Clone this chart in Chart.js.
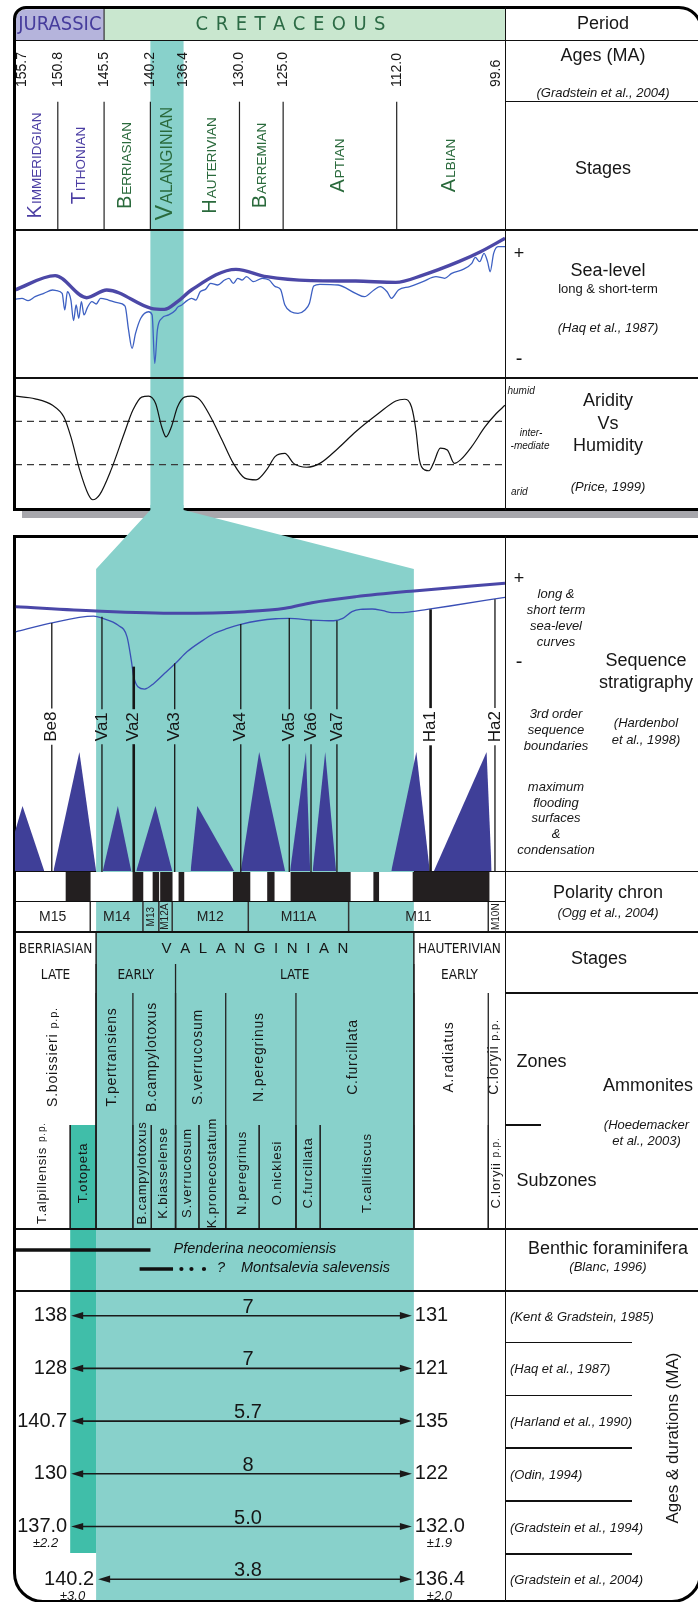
<!DOCTYPE html>
<html lang="en">
<head>
<meta charset="UTF-8">
<title>Valanginian stratigraphic framework</title>
<script src="https://cdn.jsdelivr.net/npm/chart.js"></script>
<style>
  body { margin: 0; background: #fff; }
  #page { position: relative; width: 698px; height: 1602px; overflow: hidden; background: #fff;
          font-family: 'Liberation Sans', Arial, sans-serif; color: #161616; }
  .t { position: absolute; white-space: nowrap; line-height: 1; z-index: 2; }
  .it { font-style: italic; }
  .ln { position: absolute; background: #111; z-index: 2; }
  .frame { position: absolute; border: 3px solid #000; box-sizing: border-box; z-index: 2; }
</style>
</head>
<body>
<div id="page"></div>
<script>
// ---------- upper panel : time scale (Gradstein et al., 2004) ----------
const ageTicks = [155.7, 150.8, 145.5, 140.2, 136.4, 130.0, 125.0, 112.0, 99.6];
const periodNames = ['JURASSIC', 'CRETACEOUS'];
const periodEdges = [155.7, 145.5, 99.6];
const stageNames = ['Kimmeridgian', 'Tithonian', 'Berriasian', 'Valanginian', 'Hauterivian', 'Barremian', 'Aptian', 'Albian'];
const stageEdges = [155.7, 150.8, 145.5, 140.2, 136.4, 130.0, 125.0, 112.0, 99.6];
const stageLines = [150.8, 145.5, 140.2, 130.0, 125.0, 112.0];
const valanginian = [140.2, 136.4];

// sea level (Haq et al., 1987), [age Ma, relative level 0-100]
const seaLong = [[155.7,60.3],[151.1,70.1],[147.5,55.0],[145.2,60.3],[140.1,47.7],[138.6,47.0],[137.1,52.3],
  [135.5,60.3],[130.4,74.4],[126.9,69.4],[121.8,66.7],[116.7,66.4],[112.1,65.5],[109.0,70.5],[104.9,79.7],
  [102.4,86.5],[99.6,95.7]];
const seaShort = [[155.7,53.9],[154.9,54.6],[154.2,53.0],[153.4,55.7],[152.4,58.0],[151.4,60.3],[150.9,59.8],
  [150.3,58.0],[150.0,46.6],[149.7,59.1],[149.3,53.4],[149.0,39.3],[148.7,50.0],[148.4,40.9],[148.1,52.3],
  [147.8,43.2],[147.4,48.4],[146.9,52.3],[146.4,50.7],[145.9,54.6],[145.0,53.4],[144.0,51.6],[143.1,49.3],
  [142.7,32.9],[142.3,20.3],[141.9,30.6],[141.3,40.9],[140.4,45.4],[140.0,43.2],[139.7,10.0],[139.4,32.9],
  [138.9,40.9],[138.1,43.2],[137.3,46.6],[137.1,48.4],[136.6,50.0],[136.0,53.0],[135.5,54.6],[135.0,53.4],
  [134.5,59.1],[133.9,60.7],[133.3,64.8],[132.5,63.7],[131.7,67.1],[131.2,68.3],[130.7,64.8],[130.2,68.3],
  [129.7,67.1],[129.2,69.4],[128.4,66.0],[127.4,68.3],[126.6,67.1],[125.9,62.6],[125.3,60.7],[124.8,50.0],
  [124.1,45.4],[123.3,44.3],[122.5,46.6],[122.0,51.1],[121.5,63.0],[120.8,64.2],[118.7,63.7],[116.7,58.0],
  [115.7,55.7],[114.6,60.3],[113.9,62.6],[113.1,59.1],[112.6,54.6],[111.8,60.3],[110.5,62.6],[109.0,66.0],
  [107.5,69.4],[106.5,68.3],[105.7,71.7],[104.4,74.4],[103.4,78.5],[103.0,82.6],[102.5,79.7],[102.0,85.4],
  [101.6,79.7],[101.3,72.8],[100.9,85.4],[100.4,90.0],[99.6,90.0]];

// aridity vs humidity (Price, 1999): 0 arid, 1-2 intermediate, 3 humid
const aridity = [[155.7,2.58],[153.4,2.52],[151.4,2.37],[150.1,2.10],[149.3,1.64],[148.3,0.88],[147.3,0.31],
  [146.8,0.19],[146.0,0.31],[144.7,0.88],[143.2,1.72],[142.2,2.26],[141.2,2.56],[140.4,2.58],[139.6,2.41],
  [138.9,1.87],[138.4,1.64],[137.8,1.87],[137.1,2.33],[136.3,2.56],[135.5,2.58],[134.5,2.49],[133.3,2.10],
  [132.0,1.57],[130.7,1.03],[129.4,0.69],[128.1,0.65],[126.9,0.88],[125.9,1.19],[124.8,1.26],[123.8,1.03],
  [122.3,0.94],[120.8,1.03],[118.7,1.38],[116.7,1.76],[114.1,2.18],[112.1,2.47],[111.1,2.51],[110.3,2.33],
  [109.8,1.80],[109.4,1.11],[108.8,0.88],[108.3,0.86],[107.8,1.03],[107.0,1.38],[106.2,1.34],[105.4,1.03],
  [104.7,1.11],[103.4,1.42],[101.9,1.87],[100.6,2.18],[99.6,2.37]];
const aridityLevels = [1, 2];

// ---------- lower panel : expanded Valanginian ----------
const seaLongV = [[141.16,78.9],[140.20,77.6],[139.22,76.9],[138.42,77.4],[137.94,78.4],[137.62,80.1],
  [137.09,81.9],[136.40,83.6],[135.31,85.9]];
const seaShortV = [[141.16,71.4],[140.76,73.9],[140.23,76.1],[140.12,75.4],[139.94,73.4],[139.83,69.9],
  [139.78,63.0],[139.75,58.0],[139.70,55.0],[139.62,54.3],[139.51,56.0],[139.38,59.0],[139.25,62.0],
  [139.11,65.5],[138.95,68.4],[138.79,70.9],[138.63,72.4],[138.47,73.6],[138.26,74.7],[138.05,75.3],
  [137.89,75.4],[137.62,74.9],[137.36,74.7],[137.25,75.4],[137.14,77.4],[137.04,78.1],[136.90,78.2],
  [136.77,77.7],[136.66,77.1],[136.50,77.2],[136.24,78.1],[135.97,79.1],[135.31,81.7]];
const seqNames = ['Be8', 'Va1', 'Va2', 'Va3', 'Va4', 'Va5', 'Va6', 'Va7', 'Ha1', 'Ha2'];
const seqAges = [140.73, 140.13, 139.75, 139.26, 138.47, 137.89, 137.63, 137.32, 136.20, 135.43];
const seqTop = [74.0, 75.9, 61.0, 62.0, 73.7, 75.5, 74.9, 74.7, 78.1, 81.1];
const seqMajor = ['Va2', 'Ha1'];
// maximum flooding surfaces: [base start, apex, base end, height]
const mfs = [[141.31,141.08,140.82,19.4],[140.71,140.40,140.20,35.5],[140.12,139.94,139.78,19.4],
  [139.72,139.49,139.29,19.4],[139.07,138.99,138.55,19.4],[138.47,138.25,137.94,35.5],
  [137.88,137.69,137.64,35.5],[137.61,137.46,137.33,35.5],[136.67,136.37,136.21,35.5],
  [136.16,135.53,135.47,35.5]];

// polarity (Ogg et al., 2004): normal (black) intervals and chron names
const normalChrons = [[140.56,140.27],[139.76,139.64],[139.52,139.45],[139.43,139.29],[139.21,139.15],
  [138.56,138.36],[138.15,138.07],[137.87,137.16],[136.88,136.82],[136.41,135.50]];
const chronNames = ['M15', 'M14', 'M13', 'M12A', 'M12', 'M11A', 'M11', 'M10N'];
const chronEdges = [141.17, 140.27, 139.64, 139.45, 139.29, 138.38, 137.18, 135.51, 135.31];

const stageLo = ['BERRIASIAN', 'VALANGINIAN', 'HAUTERIVIAN'];
const stageLoEdges = [141.17, 140.2, 136.4, 135.31];
const subStages = ['LATE', 'EARLY', 'LATE', 'EARLY'];
const subStageEdges = [141.17, 140.2, 139.25, 136.4, 135.31];

// ammonites (Hoedemacker et al., 2003)
const zoneNames = ['S.boissieri|p.p.', 'T.pertransiens', 'B.campylotoxus', 'S.verrucosum', 'N.peregrinus',
  'C.furcillata', 'A.radiatus', 'C.loryii|p.p.'];
const zoneEdges = [141.17, 140.2, 139.76, 139.25, 138.65, 137.81, 136.4, 135.51, 135.31];
const subzoneNames = ['T.alpillensis|p.p.', 'T.otopeta', 'B.campylotoxus', 'K.biasselense', 'S.verrucosum',
  'K.pronecostatum', 'N.peregrinus', 'O.nicklesi', 'C.furcillata', 'T.callidiscus', 'C.loryii|p.p.'];
const subzoneFrom = [141.17, 140.51, 139.76, 139.54, 139.25, 138.97, 138.65, 138.25, 137.81, 137.52, 135.51];
const subzoneTo = [140.51, 140.2, 139.54, 139.25, 138.97, 138.65, 138.25, 137.81, 137.52, 136.4, 135.31];
const otopeta = [140.51, 140.2];

// benthic foraminifera (Blanc, 1996)
const pfenderina = [141.17, 139.55];
const montsalevia = [139.68, 139.28];
const montsaleviaDots = [139.18, 139.06, 138.91];

// ages & durations of the Valanginian (MA)
const refs = ['(Kent & Gradstein, 1985)', '(Haq et al., 1987)', '(Harland et al., 1990)', '(Odin, 1994)',
  '(Gradstein et al., 1994)', '(Gradstein et al., 2004)'];
const baseAge = ['138', '128', '140.7', '130', '137.0', '140.2'];
const topAge = ['131', '121', '135', '122', '132.0', '136.4'];
const duration = ['7', '7', '5.7', '8', '5.0', '3.8'];
const baseErr = ['', '', '', '', '±2.2', '±3.0'];
const topErr = ['', '', '', '', '±1.9', '±2.0'];

// ---------- styling ----------
const SANS = "'Liberation Sans', Arial, sans-serif";
const NARROW = "'Liberation Sans Narrow', 'DejaVu Sans Condensed', 'Liberation Sans', sans-serif";
const INK = '#161616';
const TEAL = '#88d1cb', TEAL_DARK = '#40bea9';
const TRI = '#3f3f98';
const page = document.getElementById('page');

function el(cls, css, txt) {
  const d = document.createElement('div');
  d.className = cls; d.style.cssText = css;
  if (txt !== undefined) d.textContent = txt;
  page.appendChild(d);
  return d;
}
function hline(x1, x2, y, w) { el('ln', `left:${x1}px;top:${y - w / 2}px;width:${x2 - x1}px;height:${w}px`); }
function vline(x, y1, y2, w) { el('ln', `left:${x - w / 2}px;top:${y1}px;width:${w}px;height:${y2 - y1}px`); }
function text(s, x, y, size, o = {}) {
  const d = el('t' + (o.it ? ' it' : ''), `left:${x}px;top:${y}px;font-size:${size}px`, s);
  d.style.transform = `translate(${o.left ? '0' : '-50%'},-50%)` + (o.rot ? ' rotate(-90deg)' : '');
}

function vText(ctx, s, x, y, font, color, align) {
  ctx.save(); ctx.translate(x, y); ctx.rotate(-Math.PI / 2);
  ctx.font = font; ctx.fillStyle = color; ctx.textAlign = align || 'center'; ctx.textBaseline = 'middle';
  ctx.fillText(s, 0, 0); ctx.restore();
}
// rotated name with an optional smaller "p.p." suffix
function vName(ctx, label, x, y, size) {
  const [main, suf] = label.split('|');
  ctx.save(); ctx.translate(x, y); ctx.rotate(-Math.PI / 2);
  ctx.fillStyle = INK; ctx.textBaseline = 'middle'; ctx.textAlign = 'left';
  ctx.letterSpacing = '0.8px';
  ctx.font = `${size}px ${SANS}`; const w1 = ctx.measureText(main).width;
  let w2 = 0;
  if (suf) { ctx.font = `${size - 3}px ${SANS}`; w2 = ctx.measureText(suf).width + 5; }
  const x0 = -(w1 + w2) / 2;
  ctx.font = `${size}px ${SANS}`; ctx.fillText(main, x0, 0);
  if (suf) { ctx.font = `${size - 3}px ${SANS}`; ctx.fillText(suf, x0 + w1 + 5, 0); }
  ctx.restore();
}
function capsText(ctx, word, x, y, big, small, color) {
  const a = word[0].toUpperCase(), b = word.slice(1).toUpperCase();
  ctx.save(); ctx.translate(x, y); ctx.rotate(-Math.PI / 2);
  ctx.fillStyle = color; ctx.textAlign = 'left'; ctx.textBaseline = 'alphabetic';
  ctx.font = `${big}px ${SANS}`; const wa = ctx.measureText(a).width;
  ctx.font = `${small}px ${SANS}`; const wb = ctx.measureText(b).width;
  const x0 = -(wa + wb) / 2, base = big * 0.36;
  ctx.font = `${big}px ${SANS}`; ctx.fillText(a, x0, base);
  ctx.font = `${small}px ${SANS}`; ctx.fillText(b, x0 + wa + 1, base);
  ctx.restore();
}
function spaced(ctx, s, cx, cy, font, gap, color) {
  ctx.font = font; ctx.fillStyle = color; ctx.textAlign = 'left'; ctx.textBaseline = 'middle';
  const chars = [...s], ws = chars.map(c => ctx.measureText(c).width);
  let x = cx - (ws.reduce((a, b) => a + b, 0) + gap * (chars.length - 1)) / 2;
  chars.forEach((c, i) => { ctx.fillText(c, x, cy); x += ws[i] + gap; });
}
function stroke(ctx, pts, lw, color, dash) {
  ctx.save(); ctx.strokeStyle = color; ctx.lineWidth = lw; ctx.setLineDash(dash || []);
  ctx.beginPath(); ctx.moveTo(pts[0], pts[1]); ctx.lineTo(pts[2], pts[3]); ctx.stroke(); ctx.restore();
}

const charts = {};
const X_UP = { type: 'linear', min: 99.6, max: 155.7, reverse: true, display: false };
const X_LO = { type: 'linear', min: 135.31, max: 141.17, reverse: true, display: false };

function makeChart(key, left, top, w, h, z, config, bg) {
  const wrap = el('', `position:absolute;left:${left}px;top:${top}px;width:${w}px;height:${h}px;z-index:${z};` +
    (bg ? `background:${bg};` : ''));
  const cv = document.createElement('canvas');
  cv.width = w; cv.height = h; cv.style.width = w + 'px'; cv.style.height = h + 'px'; cv.style.display = 'block';
  wrap.appendChild(cv);
  config.options = Object.assign({ responsive: false, animation: false, devicePixelRatio: 1, events: [],
    layout: { padding: 0 } }, config.options || {});
  config.options.plugins = Object.assign({ legend: { display: false }, tooltip: { enabled: false } },
    config.options.plugins || {});
  charts[key] = new Chart(cv, config);
  return charts[key];
}
const pts = arr => arr.map(p => ({ x: p[0], y: p[1] }));
const curve = (arr, color, width) => ({ data: pts(arr), borderColor: color, borderWidth: width, pointRadius: 0,
  fill: false, cubicInterpolationMode: 'monotone' });
const band = (chart, y0) => {
  const X = chart.scales.x;
  const a = X.getPixelForValue(valanginian[0]), b = X.getPixelForValue(valanginian[1]);
  chart.ctx.fillStyle = TEAL; chart.ctx.fillRect(a, y0 || 0, b - a, chart.height - (y0 || 0));
};

// ---------- static frames ----------
el('frame', 'left:12.7px;top:6px;width:690px;height:505px;border-radius:13px 24px 0 0');
el('ln', 'left:21.7px;top:510.7px;width:680px;height:7px;background:#a7a7ac');
el('frame', 'left:12.7px;top:535px;width:689px;height:1068px;border-radius:0 0 30px 30px');

// ---------- period / ages / stages ----------
makeChart('stage', 15, 9, 490, 221, 1, {
  type: 'line', data: { datasets: [] },
  options: { scales: { x: X_UP, y: { display: false, min: 0, max: 1 } } },
  plugins: [{
    id: 'stageRows',
    afterDraw(chart) {
      const ctx = chart.ctx, X = v => chart.scales.x.getPixelForValue(v), Y = s => s - 9;
      const fills = ['#b5b4dc', '#c9e7cf'], inks = ['#463c9c', '#2c6b45'];
      periodNames.forEach((n, i) => {
        const a = Math.max(X(periodEdges[i]), 0.7), b = X(periodEdges[i + 1]);
        ctx.fillStyle = fills[i]; ctx.beginPath();
        ctx.roundRect(a, Y(9.3), b - a, Y(40.7) - Y(9.3), i === 0 ? [11, 0, 0, 0] : 0); ctx.fill();
        if (i === 0) {
          ctx.font = `20px ${NARROW}`; ctx.fillStyle = inks[i]; ctx.textAlign = 'center'; ctx.textBaseline = 'middle';
          ctx.fillText(n, (a + b) / 2, Y(24.5));
        } else spaced(ctx, n, (a + b) / 2 - 14, Y(24.5), `20px ${NARROW}`, 7.5, inks[i]);
      });
      stroke(ctx, [X(periodEdges[1]), 0, X(periodEdges[1]), Y(40.7)], 1.2, '#333');
      band(chart, Y(40.7));
      ageTicks.forEach(a => {
        const x = Math.min(Math.max(X(a), 7), chart.width - 9);
        vText(ctx, a.toFixed(1), x, Y(87), `14px ${SANS}`, INK, 'left');
      });
      stageLines.forEach(a => stroke(ctx, [X(a), Y(101.7), X(a), chart.height], 1.2, '#222'));
      stageNames.forEach((n, i) => {
        const x = X((stageEdges[i] + stageEdges[i + 1]) / 2) - 3;
        const col = stageEdges[i] > 145.5 ? '#4b3ea3' : '#2a6a3c';
        if (n === 'Valanginian') capsText(ctx, n, x, Y(164), 23, 16, col);
        else capsText(ctx, n, x, Y(166), 20, 13.5, col);
      });
    }
  }]
});

// ---------- sea level ----------
makeChart('sea', 15, 231, 490, 147, 1, {
  type: 'line',
  data: { datasets: [curve(seaShort, '#3d60c2', 1.3), curve(seaLong, '#4c48a7', 3.4)] },
  options: { scales: { x: X_UP, y: { display: false, min: 0, max: 100.7 } } },
  plugins: [{ id: 'bandSea', beforeDatasetsDraw(chart) { band(chart); } }]
});

// ---------- aridity ----------
makeChart('arid', 15, 378, 490, 130, 1, {
  type: 'line',
  data: { datasets: [curve(aridity, '#111', 1.2)] },
  options: { scales: { x: X_UP, y: { display: false, min: 0, max: 3 } } },
  plugins: [{
    id: 'bandArid',
    beforeDatasetsDraw(chart) {
      band(chart);
      aridityLevels.forEach(l => {
        const y = chart.scales.y.getPixelForValue(l);
        stroke(chart.ctx, [0, y, chart.width, y], 1.4, '#3a3a3a', [7, 5]);
      });
    }
  }]
});

// ---------- sequence stratigraphy (expanded Valanginian) ----------
makeChart('seq', 15, 505, 490, 367, 3, {
  type: 'line',
  data: {
    datasets: [
      ...mfs.map(t => ({ data: pts([[t[0], 0], [t[1], t[3]], [t[2], 0]]), fill: 'origin', backgroundColor: TRI,
        borderWidth: 0, pointRadius: 0, tension: 0 })),
      curve(seaShortV, '#3a4fb6', 1.3),
      curve(seaLongV, '#4a47a8', 3)
    ]
  },
  options: { scales: { x: X_LO, y: { display: false, min: -0.3, max: 109.25 } } },
  plugins: [{
    id: 'seqFrame',
    beforeDatasetsDraw(chart) {
      const ctx = chart.ctx, X = chart.scales.x, U = charts.arid.scales.x;
      const t1 = U.getPixelForValue(valanginian[0]), t2 = U.getPixelForValue(valanginian[1]);
      const b1 = X.getPixelForValue(valanginian[0]), b2 = X.getPixelForValue(valanginian[1]);
      ctx.fillStyle = TEAL; ctx.beginPath();
      ctx.moveTo(t1, 0); ctx.lineTo(t2, 0); ctx.lineTo(t2, 5); ctx.lineTo(b2, 64);
      ctx.lineTo(b1, 64); ctx.lineTo(t1, 5); ctx.closePath(); ctx.fill();
      band(chart, 64);
    },
    afterDatasetsDraw(chart) {
      const ctx = chart.ctx, X = v => chart.scales.x.getPixelForValue(v), Y = v => chart.scales.y.getPixelForValue(v);
      const labY = 726.7 - 505;
      ctx.font = `17px ${SANS}`;
      seqNames.forEach((n, i) => {
        const x = X(seqAges[i]), half = ctx.measureText(n).width / 2 + 3;
        const lw = seqMajor.includes(n) ? 2.6 : 1.3;
        stroke(ctx, [x, Y(seqTop[i]), x, labY - half], lw, INK);
        stroke(ctx, [x, labY + half, x, chart.height], lw, INK);
        vText(ctx, n, x, labY, `17px ${SANS}`, INK);
        ctx.font = `17px ${SANS}`;
      });
    }
  }]
});

// ---------- polarity chron ----------
makeChart('pol', 15, 872, 490, 30, 1, {
  type: 'bar',
  data: {
    labels: ['chron'],
    datasets: normalChrons.map(c => ({ data: [c], backgroundColor: '#231f20', borderWidth: 0, grouped: false,
      barPercentage: 1, categoryPercentage: 1 }))
  },
  options: { indexAxis: 'y', scales: { x: X_LO, y: { display: false } } }
}, '#fff');

// ---------- chron names, stages, ammonites, foraminifera, ages ----------
makeChart('tab', 15, 902, 490, 700, 1, {
  type: 'line', data: { datasets: [] },
  options: { scales: { x: X_LO, y: { display: false, min: 0, max: 1 } } },
  plugins: [{
    id: 'tableRows',
    afterDraw(chart) {
      const ctx = chart.ctx, X = v => chart.scales.x.getPixelForValue(v), T = s => s - 902, W = chart.width;
      band(chart);
      ctx.fillStyle = TEAL_DARK;
      ctx.fillRect(X(otopeta[0]), T(1125), X(otopeta[1]) - X(otopeta[0]), T(1553) - T(1125));

      // chron names
      chronNames.forEach((n, i) => {
        const a = X(chronEdges[i]), b = X(chronEdges[i + 1]);
        if (i > 0) stroke(ctx, [a, 0, a, T(931.7)], 1.5, '#333');
        if (b - a < 22) vText(ctx, n, (a + b) / 2, T(916.7), `10px ${SANS}`, '#222');
        else {
          ctx.font = `14px ${SANS}`; ctx.fillStyle = '#222'; ctx.textAlign = 'center'; ctx.textBaseline = 'middle';
          ctx.fillText(n, (a + b) / 2, T(917));
        }
      });

      // stages and sub-stages
      stageLo.forEach((n, i) => {
        const c = (X(stageLoEdges[i]) + X(stageLoEdges[i + 1])) / 2;
        if (n === 'VALANGINIAN') spaced(ctx, n, c, T(949), `15px ${SANS}`, 8.6, INK);
        else {
          ctx.font = `13.5px ${NARROW}`; ctx.fillStyle = INK; ctx.textAlign = 'center'; ctx.textBaseline = 'middle';
          ctx.fillText(n, c, T(949));
        }
      });
      subStages.forEach((n, i) => {
        ctx.font = `13.5px ${NARROW}`; ctx.fillStyle = INK; ctx.textAlign = 'center'; ctx.textBaseline = 'middle';
        ctx.fillText(n, (X(subStageEdges[i]) + X(subStageEdges[i + 1])) / 2, T(975.5));
      });
      stageLoEdges.slice(1, -1).forEach(a => stroke(ctx, [X(a), T(931.7), X(a), T(1229)], 1.5, '#222'));
      subStageEdges.slice(1, -1).forEach(a => stroke(ctx, [X(a), T(964), X(a), T(1229)], 1.3, '#222'));
      zoneEdges.slice(1, -1).forEach(a => stroke(ctx, [X(a), T(993), X(a), T(1229)], 1.3, '#222'));
      subzoneFrom.concat(subzoneTo).filter(a => a < 141.1 && a > 135.35)
        .forEach(a => stroke(ctx, [X(a), T(1125), X(a), T(1229)], 1.2, '#222'));

      zoneNames.forEach((n, i) => vName(ctx, n, (X(zoneEdges[i]) + X(zoneEdges[i + 1])) / 2 - 2, T(1057), 14));
      subzoneNames.forEach((n, i) => vName(ctx, n, (X(subzoneFrom[i]) + X(subzoneTo[i])) / 2, T(1173), 13));

      // benthic foraminifera ranges
      stroke(ctx, [X(pfenderina[0]), T(1250), X(pfenderina[1]), T(1250)], 3.4, '#111');
      stroke(ctx, [X(montsalevia[0]), T(1269), X(montsalevia[1]), T(1269)], 3.4, '#111');
      ctx.fillStyle = '#111';
      montsaleviaDots.forEach(a => { ctx.beginPath(); ctx.arc(X(a), T(1269), 2.1, 0, Math.PI * 2); ctx.fill(); });
      ctx.font = `italic 14.5px ${SANS}`; ctx.textAlign = 'left'; ctx.textBaseline = 'middle';
      ctx.fillText('Pfenderina neocomiensis', X(pfenderina[1]) + 23, T(1249));
      ctx.fillText('?', X(montsaleviaDots[2]) + 13, T(1268));
      ctx.fillText('Montsalevia salevensis', X(montsaleviaDots[2]) + 37, T(1268));

      // ages & durations
      refs.forEach((r, i) => {
        const yy = 1315.7 + i * 52.7, y = T(yy);
        const xl = yy < 1553 ? X(otopeta[0]) + 1 : X(valanginian[0]) + 2;
        const xr = X(valanginian[1]) - 2;
        stroke(ctx, [xl + 6, y, xr - 6, y], 1.6, '#1a1a1a');
        ctx.fillStyle = '#1a1a1a'; ctx.beginPath();
        ctx.moveTo(xl, y); ctx.lineTo(xl + 12, y - 3.6); ctx.lineTo(xl + 12, y + 3.6); ctx.closePath(); ctx.fill();
        ctx.beginPath();
        ctx.moveTo(xr, y); ctx.lineTo(xr - 12, y - 3.6); ctx.lineTo(xr - 12, y + 3.6); ctx.closePath(); ctx.fill();
        ctx.fillStyle = INK; ctx.font = `20px ${SANS}`; ctx.textBaseline = 'middle';
        ctx.textAlign = 'right'; ctx.fillText(baseAge[i], xl - 4, y);
        ctx.textAlign = 'left'; ctx.fillText(topAge[i], xr + 3, y);
        ctx.textAlign = 'center'; ctx.textBaseline = 'alphabetic';
        ctx.fillText(duration[i], (X(valanginian[0]) + X(valanginian[1])) / 2 - 7, y - 3);
        ctx.font = `italic 13px ${SANS}`; ctx.textBaseline = 'middle';
        if (baseErr[i]) { ctx.textAlign = 'right'; ctx.fillText(baseErr[i], xl - 13, y + 17); }
        if (topErr[i]) { ctx.textAlign = 'left'; ctx.fillText(topErr[i], xr + 15, y + 17); }
      });
    }
  }]
});

// ---------- rules ----------
hline(15.7, 698, 40.7, 1.5);
hline(505, 698, 101.7, 1.5);
hline(15.7, 698, 230, 2);
hline(15.7, 698, 378, 2);
vline(505.5, 7, 510, 1.5);
vline(505.3, 536, 1601, 1.5);
hline(15.7, 698, 871.7, 1.5);
hline(15.7, 505, 901.7, 1.5);
hline(15.7, 698, 931.7, 2);
hline(505, 698, 993, 1.5);
hline(505, 541, 1125, 1.5);
hline(15.7, 698, 1229, 2);
hline(15.7, 698, 1291, 2.5);
[1342.3, 1395.3, 1448, 1501, 1554].forEach(y => hline(505, 632, y, 1.5));

// ---------- right-hand captions ----------
text('Period', 603, 23, 18);
text('Ages (MA)', 603, 55, 18);
text('(Gradstein et al., 2004)', 603, 91.7, 13, { it: 1 });
text('Stages', 603, 168, 18);
text('+', 519, 253, 18);
text('Sea-level', 608, 270, 18);
text('long & short-term', 608, 288, 13);
text('(Haq et al., 1987)', 608, 327, 13, { it: 1 });
text('-', 519, 358, 20);
text('humid', 507.5, 391, 10, { it: 1, left: 1 });
text('inter-', 531, 433, 10, { it: 1 });
text('-mediate', 530, 446, 10, { it: 1 });
text('arid', 511, 492, 10, { it: 1, left: 1 });
text('Aridity', 608, 400, 18);
text('Vs', 608, 423, 18);
text('Humidity', 608, 445, 18);
text('(Price, 1999)', 608, 486, 13, { it: 1 });

text('+', 519, 578, 18);
['long &', 'short term', 'sea-level', 'curves'].forEach((s, i) => text(s, 556, 593 + i * 16, 13, { it: 1 }));
text('-', 519, 661, 20);
text('Sequence', 646, 660, 18);
text('stratigraphy', 646, 682, 18);
['3rd order', 'sequence', 'boundaries'].forEach((s, i) => text(s, 556, 713 + i * 16, 13, { it: 1 }));
text('(Hardenbol', 646, 722, 13, { it: 1 });
text('et al., 1998)', 646, 739, 13, { it: 1 });
['maximum', 'flooding', 'surfaces', '&', 'condensation'].forEach((s, i) => text(s, 556, 786 + i * 15.7, 13, { it: 1 }));
text('Polarity chron', 608, 891.7, 18);
text('(Ogg et al., 2004)', 608, 911.7, 13, { it: 1 });
text('Stages', 599, 958, 18);
text('Zones', 516.5, 1061, 18, { left: 1 });
text('Ammonites', 648, 1085, 18);
text('(Hoedemacker', 646.5, 1124, 13, { it: 1 });
text('et al., 2003)', 646.5, 1140, 13, { it: 1 });
text('Subzones', 516.5, 1180, 18, { left: 1 });
text('Benthic foraminifera', 608, 1248, 18);
text('(Blanc, 1996)', 608, 1266, 13, { it: 1 });
refs.forEach((r, i) => text(r, 510, 1315.7 + i * 52.7, 13, { it: 1, left: 1 }));
text('Ages & durations (MA)', 672, 1438, 17, { rot: 1 });
</script>
</body>
</html>
